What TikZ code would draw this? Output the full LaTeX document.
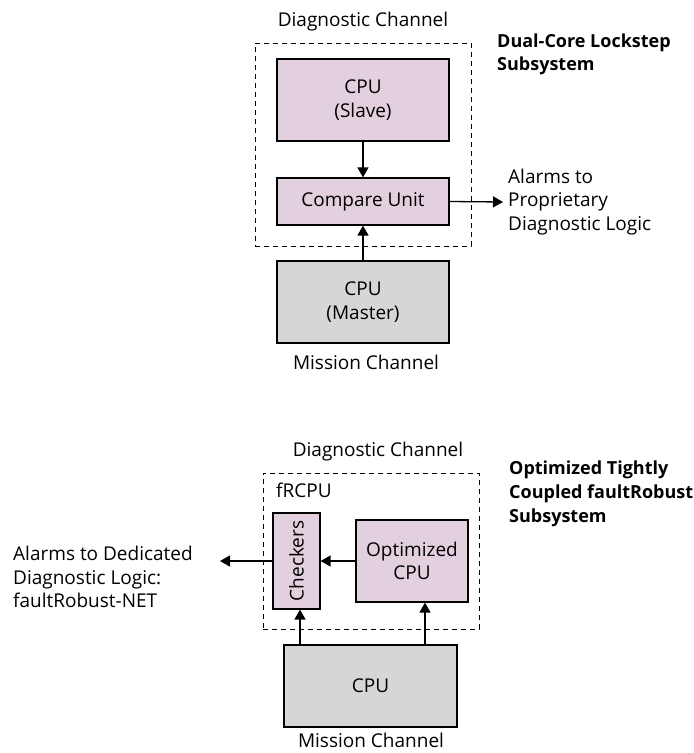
\documentclass[tikz,border=0pt]{standalone}
\usepackage{fontspec}
\setmainfont{Open Sans}
\usetikzlibrary{arrows.meta}
\definecolor{pinkfill}{RGB}{226,208,222}
\definecolor{grayfill}{RGB}{214,214,214}
\tikzset{
  box/.style={draw=black, line width=1.2pt, minimum width=#1, inner sep=0pt, align=center},
  pbox/.style={box=#1, fill=pinkfill},
  gbox/.style={box=#1, fill=grayfill},
  frame/.style={draw=black, line width=1pt, dash pattern=on 5pt off 4pt, inner sep=0pt},
  lbl/.style={inner sep=0pt, align=left},
  conn/.style={line width=1.3pt, -{Triangle[length=10pt,width=11pt]}},
}
\begin{document}
\begin{tikzpicture}[x=1pt,y=-1pt, font=\fontsize{19}{23.5}\selectfont]
\useasboundingbox (0,0) rectangle (694,753);
% ---------- top subsystem ----------
\node[frame, minimum width=216pt, minimum height=203pt] (dframe1) at (363,144.5) {};
\node[inner sep=0pt] (dlabel1) at (363,22) {Diagnostic Channel};
\node[pbox=172pt, minimum height=82pt] (slave) at (363,100) {CPU\\(Slave)};
\node[pbox=172pt, minimum height=47pt] (cmp) at (363,201.5) {Compare Unit};
\node[gbox=172pt, minimum height=82pt] (master) at (363,302) {CPU\\(Master)};
\node[inner sep=0pt] (mlabel1) at (366,362) {Mission Channel};
\node[lbl, anchor=west] (alarm1) at (508,202) {Alarms to\\Proprietary\\Diagnostic Logic};
\node[lbl, anchor=west, font=\fontsize{18}{23}\selectfont\bfseries] (title1) at (497,54.5) {Dual-Core Lockstep\\Subsystem};
\draw[conn] (slave.south) -- (cmp.north);
\draw[conn] (master.north) -- (cmp.south);
\draw[conn] (cmp.east) -- (alarm1.west -| 503,0);
% ---------- bottom subsystem ----------
\node[frame, minimum width=216pt, minimum height=156pt] (dframe2) at (371,551) {};
\node[inner sep=0pt] (dlabel2) at (378,452) {Diagnostic Channel};
\node[lbl, anchor=west] (frcpu) at (276,490) {fRCPU};
\node[pbox=47pt, minimum height=96pt] (check) at (296.5,561) {};
\node[rotate=90, inner sep=0pt] (checktxt) at (check.center) {Checkers};
\node[pbox=112pt, minimum height=82pt] (opt) at (412,561) {Optimized\\CPU};
\node[gbox=173pt, minimum height=82pt] (cpu) at (370.5,686) {CPU};
\node[inner sep=0pt] (mlabel2) at (371,740) {Mission Channel};
\node[lbl, anchor=west] (alarm2) at (13,577) {Alarms to Dedicated\\Diagnostic Logic:\\faultRobust-NET};
\node[lbl, anchor=west, font=\fontsize{18}{24}\selectfont\bfseries] (title2) at (509,494) {Optimized Tightly\\Coupled faultRobust\\Subsystem};
\coordinate (a2end) at (220,561);
\coordinate (c1) at ([xshift=3.5pt]check.south);
\coordinate (o1) at ([xshift=13pt]opt.south);
\draw[conn] (opt.west) -- (check.east);
\draw[conn] (check.west) -- (a2end);
\draw[conn] (cpu.north -| c1) -- (c1);
\draw[conn] (cpu.north -| o1) -- (o1);
\end{tikzpicture}
\end{document}
